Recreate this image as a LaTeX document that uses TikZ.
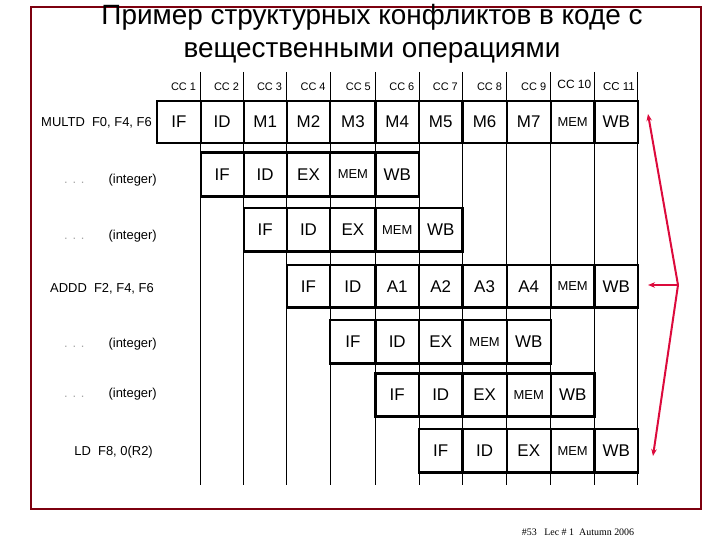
\documentclass[tikz,border=0pt]{standalone}
\usepackage{fontspec}
\setmainfont{Liberation Sans}
\newfontfamily\footfont{Liberation Serif}
\usetikzlibrary{arrows.meta}
\definecolor{framecol}{RGB}{125,0,15}
\definecolor{arrcol}{RGB}{220,10,60}
\newcommand\memtxt{{\fontsize{13}{13}\selectfont MEM}}
\def\cols{{157,200.7,243.7,286.7,330.3,375.5,419,462.5,506.7,550.8,594.5,637.8}}
\newcommand\pipe[5]{%
  \foreach \s [count=\k from #4] in {#5}{%
    \pgfmathsetmacro\xa{\cols[\k-1]}%
    \pgfmathsetmacro\xb{\cols[\k]}%
    \pgfmathsetmacro\w{\xb-\xa}%
    \pgfmathsetmacro\h{#3-#2}%
    \pgfmathsetmacro\xc{(\xa+\xb)/2}%
    \pgfmathsetmacro\yc{(#2+#3)/2}%
    \node[cell, minimum width=\w bp, minimum height=\h bp] (#1-\k) at (\xc,\yc) {\s};
  }}
\begin{document}
\begin{tikzpicture}[x=1bp,y=-1bp]
\useasboundingbox (0,0) rectangle (720,540);
\tikzset{
  cell/.style={draw, line width=2.2bp, inner sep=0pt, outer sep=0pt, font=\fontsize{17}{17}\selectfont},
  gridline/.style={line width=0.8bp},
  cclab/.style={anchor=base east, font=\fontsize{11}{11}\selectfont, inner sep=0pt},
  instr/.style={anchor=east, font=\fontsize{13}{13}\selectfont, inner sep=0pt},
  redarr/.style={draw=arrcol, line width=2bp, -{Stealth[length=7bp,width=5.5bp]}},
  titletxt/.style={anchor=base, font=\fontsize{28}{32}\selectfont, inner sep=0pt}
}
% frame
\draw[framecol, line width=2bp] (31,7) rectangle (701,509);
% title
\node[titletxt] (title1) at (372,25) {Пример структурных конфликтов в коде с};
\node[titletxt] (title2) at (372,58) {вещественными операциями};
% grid lines
\foreach \i in {1,...,11}{%
  \pgfmathsetmacro\xx{\cols[\i]}%
  \draw[gridline] (\xx,72) -- (\xx,485);
}
% cycle labels
\foreach \i in {1,...,9}{%
  \pgfmathsetmacro\xx{\cols[\i]-4.5}%
  \node[cclab] (cc\i) at (\xx,90.5) {CC \i};
}
\node[cclab, font=\fontsize{12}{12}\selectfont] (cc10) at (591.5,89) {CC 10};
\node[cclab, font=\fontsize{11.5}{11.5}\selectfont] (cc11) at (635,90.5) {CC 11};
% instruction labels
\node[instr] (i1) at (152,123) {MULTD\ \ F0, F4, F6};
\node[instr] (i2) at (157,180) {{\color{gray!70}. . .}\hspace{24bp}(integer)};
\node[instr] (i3) at (157,236) {{\color{gray!70}. . .}\hspace{24bp}(integer)};
\node[instr] (i4) at (154,289) {ADDD\ \ F2, F4, F6};
\node[instr] (i5) at (157,344) {{\color{gray!70}. . .}\hspace{24bp}(integer)};
\node[instr] (i6) at (157,394) {{\color{gray!70}. . .}\hspace{24bp}(integer)};
\node[instr] (i7) at (153,452) {LD\ \ F8, 0(R2)};
% pipeline rows
\pipe{r1}{101}{143}{1}{IF,ID,M1,M2,M3,M4,M5,M6,M7,\memtxt,WB}
\pipe{r2}{152.5}{196.5}{2}{IF,ID,EX,\memtxt,WB}
\pipe{r3}{208}{251.5}{3}{IF,ID,EX,\memtxt,WB}
\pipe{r4}{265}{307.5}{4}{IF,ID,A1,A2,A3,A4,\memtxt,WB}
\pipe{r5}{320}{363.5}{5}{IF,ID,EX,\memtxt,WB}
\pipe{r6}{373.5}{416.5}{6}{IF,ID,EX,\memtxt,WB}
\pipe{r7}{429}{472.5}{7}{IF,ID,EX,\memtxt,WB}
% red arrows
\coordinate (j) at (678,285);
\coordinate (aTop) at (648,114);
\coordinate (aMid) at (648,285);
\coordinate (aBot) at (653,456);
\draw[redarr] (j) -- (aTop);
\draw[redarr] (j) -- (aMid);
\draw[redarr] (j) -- (aBot);
% footer
\node[font=\footfont\fontsize{10}{10}\selectfont, inner sep=0pt] (foot) at (578,532) {\#53\ \ \ Lec \# 1\ \ Autumn 2006};
\end{tikzpicture}
\end{document}
